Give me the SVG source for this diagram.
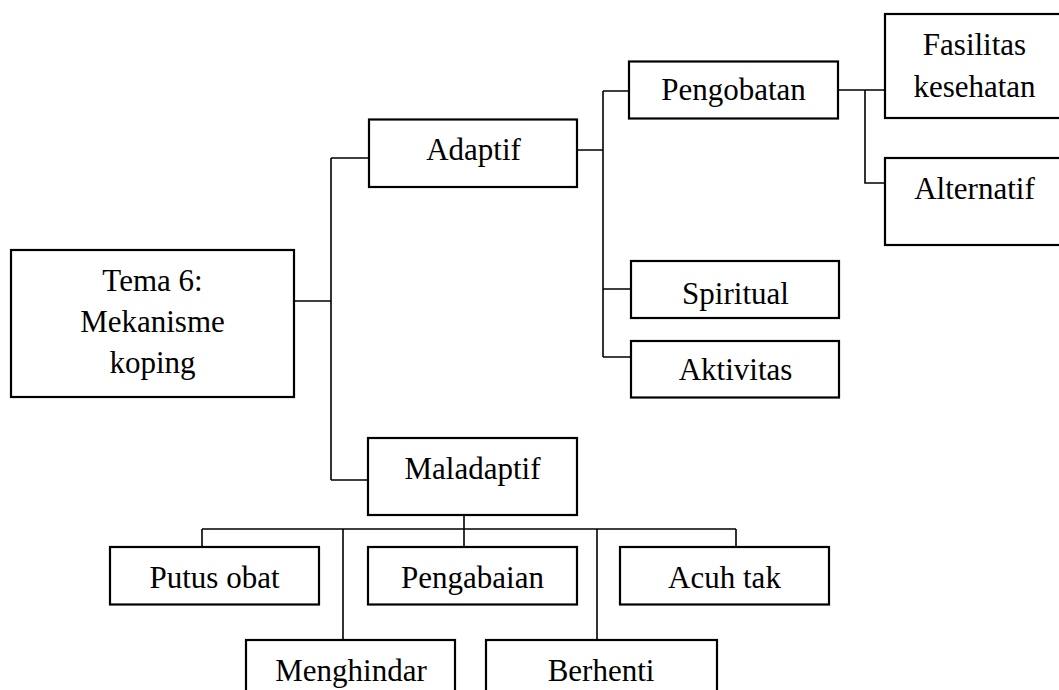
<svg xmlns="http://www.w3.org/2000/svg" width="1059" height="690" viewBox="0 0 1059 690">
<style>
.box{fill:#fff;stroke:#000;stroke-width:2.2}
.c{fill:none;stroke:#000;stroke-width:1.6}
text{font-family:"Liberation Serif","Times New Roman",serif;font-size:31px;fill:#000;text-anchor:middle}
</style>
<rect width="1059" height="690" fill="#fff"/>
<g id="connectors">
<path class="c" d="M294,301 H331 M331,158 V480 M331,158 H369 M331,480 H368"/>
<path class="c" d="M577,150 H603 M603,91 V357 M603,91 H629 M603,289 H631 M603,357 H631"/>
<path class="c" d="M838,90 H885 M865,90 V183 H885"/>
<path class="c" d="M464,515 V547 M202,529 H736 M202,529 V547 M343,529 V640 M597,529 V640 M736,529 V547"/>
</g>
<g id="tema"><rect class="box" x="11" y="250" width="283" height="147"/><text x="152.5" y="291">Tema 6:</text><text x="152.5" y="332">Mekanisme</text><text x="152.5" y="373">koping</text></g>
<g id="adaptif"><rect class="box" x="369" y="119.5" width="208" height="67.5"/><text x="473.5" y="160">Adaptif</text></g>
<g id="pengobatan"><rect class="box" x="629" y="61.5" width="209" height="57"/><text x="733.5" y="100">Pengobatan</text></g>
<g id="fasilitas"><rect class="box" x="885" y="14" width="180" height="104"/><text x="974.5" y="54.5">Fasilitas</text><text x="974.5" y="96.5">kesehatan</text></g>
<g id="alternatif"><rect class="box" x="885" y="158" width="180" height="87"/><text x="974.5" y="199">Alternatif</text></g>
<g id="spiritual"><rect class="box" x="631" y="261" width="208" height="57"/><text x="735.5" y="304">Spiritual</text></g>
<g id="aktivitas"><rect class="box" x="631" y="341" width="208" height="56.5"/><text x="735.5" y="380">Aktivitas</text></g>
<g id="maladaptif"><rect class="box" x="368" y="438" width="209" height="77"/><text x="472.5" y="479">Maladaptif</text></g>
<g id="putus-obat"><rect class="box" x="110" y="547" width="209" height="57.5"/><text x="214.5" y="588">Putus obat</text></g>
<g id="pengabaian"><rect class="box" x="368" y="547" width="209" height="57.5"/><text x="472.5" y="588">Pengabaian</text></g>
<g id="acuh-tak"><rect class="box" x="620" y="547" width="209" height="57.5"/><text x="724.5" y="588">Acuh tak</text></g>
<g id="menghindar"><rect class="box" x="246" y="640" width="209" height="70"/><text x="351" y="681">Menghindar</text></g>
<g id="berhenti"><rect class="box" x="486" y="640" width="231" height="70"/><text x="601" y="681">Berhenti</text></g>
</svg>
